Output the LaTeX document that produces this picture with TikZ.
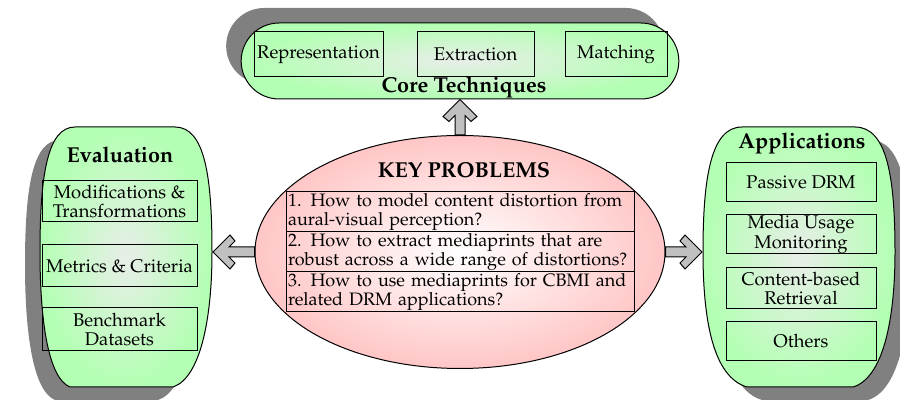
\documentclass[tikz,border=0pt]{standalone}
\usepackage[T1]{fontenc}
\usepackage{mathpazo}
\usetikzlibrary{shapes.geometric,shapes.misc,shadows,calc}

\definecolor{panelgreen}{RGB}{179,255,179}
\definecolor{panelmid}{RGB}{232,238,232}
\definecolor{keypink}{RGB}{255,198,198}
\definecolor{shadowgray}{RGB}{128,128,128}
\definecolor{arrowgray}{RGB}{192,192,192}

\tikzset{
  panel/.style={draw, line width=0.5pt, shade, shading=radial,
    inner color=panelmid, outer color=panelgreen},
  itembox/.style={draw, line width=0.5pt, inner sep=0pt, align=center,
    font=\fontsize{9.2}{9.7}\selectfont},
  title/.style={font=\fontsize{10.8}{12}\selectfont\bfseries},
  question/.style={draw, line width=0.5pt, minimum width=174pt,
    minimum height=20pt, text width=172pt, inner xsep=1pt, inner ysep=0pt,
    align=left, font=\fontsize{9}{9.7}\selectfont},
  fatarrow/.style={draw, line width=0.5pt, fill=arrowgray,
    to path={-- ($(\tikztostart)!2.5pt!-90:(\tikztotarget)$)
      -- ($(\tikztotarget)!8pt!(\tikztostart)!2.5pt!-90:(\tikztotarget)$)
      -- ($(\tikztotarget)!11pt!(\tikztostart)!5.5pt!-90:(\tikztotarget)$)
      -- ($(\tikztotarget)!8.5pt!(\tikztostart)!8.5pt!-90:(\tikztotarget)$)
      -- (\tikztotarget)
      -- ($(\tikztotarget)!8.5pt!(\tikztostart)!8.5pt!90:(\tikztotarget)$)
      -- ($(\tikztotarget)!11pt!(\tikztostart)!5.5pt!90:(\tikztotarget)$)
      -- ($(\tikztotarget)!8pt!(\tikztostart)!2.5pt!90:(\tikztotarget)$)
      -- ($(\tikztostart)!2.5pt!90:(\tikztotarget)$) -- cycle}}
}

\begin{document}
\begin{tikzpicture}[x=0.5pt, y=-0.5pt]
  \useasboundingbox (0,0) rectangle (900,405);

  % Core techniques
  \node[panel, rounded rectangle, minimum width=225.5pt, minimum height=38pt,
    drop shadow={shadow xshift=-7.5pt, shadow yshift=7.5pt, fill=shadowgray, opacity=1}]
    (core) at (460,61) {};
  \node[itembox, minimum width=64.5pt, minimum height=22.5pt] (repr) at (318.5,54.5) {Representation};
  \node[itembox, minimum width=58.5pt, minimum height=22.5pt] (extr) at (475.5,54.5) {Extraction};
  \node[itembox, minimum width=51pt, minimum height=22.5pt] (match) at (616,54.5) {Matching};
  \node[title] (coretitle) at (464,87) {Core Techniques};

  % Evaluation
  \path[panel, drop shadow={shadow xshift=-7.5pt, shadow yshift=-6.5pt, fill=shadowgray, opacity=1}]
    (75,127) -- (175,127) .. controls (205,127) and (212,177) .. (212,252)
    .. controls (212,320) and (200,378) .. (173,387) -- (70,387)
    .. controls (48,378) and (40,320) .. (40,252)
    .. controls (40,177) and (47,127) .. (75,127) -- cycle;
  \coordinate (evaledge) at (213,252);
  \node[title] (evaltitle) at (120,155) {Evaluation};
  \node[itembox, minimum width=77.5pt, minimum height=20.5pt] (modif) at (119.5,201.5) {Modifications \&\\Transformations};
  \node[itembox, minimum width=77.5pt, minimum height=21pt] (metric) at (119.5,266) {Metrics \& Criteria};
  \node[itembox, minimum width=77.5pt, minimum height=21.5pt] (bench) at (119.5,329.5) {Benchmark\\Datasets};

  % Applications
  \path[panel, drop shadow={shadow xshift=7.5pt, shadow yshift=-6.5pt, fill=shadowgray, opacity=1}]
    (742,127) -- (855,127) .. controls (887,127) and (895,177) .. (895,252)
    .. controls (895,320) and (883,378) .. (853,387) -- (747,387)
    .. controls (713,377) and (703,320) .. (703,252)
    .. controls (703,177) and (711,127) .. (742,127) -- cycle;
  \coordinate (appsedge) at (702,252);
  \node[title] (appstitle) at (802,143) {Applications};
  \node[itembox, minimum width=75pt, minimum height=19.5pt] (drm) at (801,182.5) {Passive DRM};
  \node[itembox, minimum width=75pt, minimum height=19.5pt] (usage) at (801,234.5) {Media Usage\\Monitoring};
  \node[itembox, minimum width=75pt, minimum height=20.5pt] (cbr) at (801,288.5) {Content-based\\Retrieval};
  \node[itembox, minimum width=75pt, minimum height=19.5pt] (others) at (801,341.5) {Others};

  % Key problems
  \node[ellipse, draw, line width=0.5pt, shade, shading=radial, inner color=white,
    outer color=keypink, minimum width=205pt, minimum height=116.5pt, inner sep=0pt]
    (key) at (460,252) {};
  \node[title] (keytitle) at (464,170) {KEY PROBLEMS};
  \node[question] (q1) at (460,212) {\mbox{1. How to model content distortion from}\\aural-visual perception?};
  \node[question] (q2) at (460,252) {\mbox{2. How to extract mediaprints that are}\\\mbox{robust across a wide range of distortions?}};
  \node[question] (q3) at (460,292) {\mbox{3. How to use mediaprints for CBMI and}\\related DRM applications?};

  % Arrows
  \draw[fatarrow] (key.north) to (core.south);
  \draw[fatarrow] (key.west) to (evaledge);
  \draw[fatarrow] (key.east) to (appsedge);
\end{tikzpicture}
\end{document}
